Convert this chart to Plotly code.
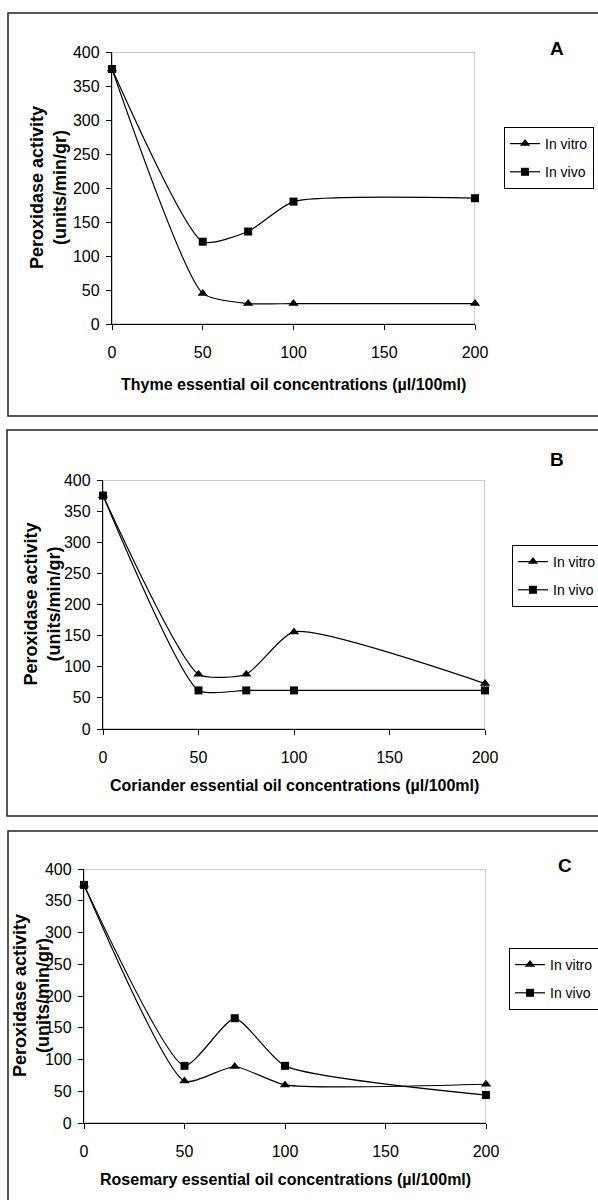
import plotly.graph_objects as go

# ---------------- data ----------------
conc = [0, 50, 75, 100, 200]
thyme_vitro = [375, 45, 30, 30, 30]
thyme_vivo = [375, 121, 136, 180, 185]
coriander_vitro = [375, 88, 88, 156, 73]
coriander_vivo = [375, 62, 62, 62, 62]
rosemary_vitro = [375, 66, 89, 60, 61]
rosemary_vivo = [375, 90, 165, 90, 44]
x_ticks = [0, 50, 100, 150, 200]
y_ticks = [0, 50, 100, 150, 200, 250, 300, 350, 400]
series_names = ["In vitro", "In vivo"]
panel_letters = ["A", "B", "C"]
x_titles = [
    "Thyme essential oil concentrations (µl/100ml)",
    "Coriander essential oil concentrations (µl/100ml)",
    "Rosemary essential oil concentrations (µl/100ml)",
]
y_title = "Peroxidase activity<br>(units/min/gr)"
panel_series = [
    (thyme_vitro, thyme_vivo),
    (coriander_vitro, coriander_vivo),
    (rosemary_vitro, rosemary_vivo),
]

# ---------------- layout geometry (pixels) ----------------
W, H = 598, 1200
FONT = "Liberation Sans, Arial, sans-serif"


def px(x):
    return x / W


def py(y):
    return 1 - y / H


panels = [
    dict(plot=(112, 475, 52, 324), box=(8, 13, 416), legend=(504, 127),
         letter=(557, 48), xtitle_y=385, ytitle_x=48),
    dict(plot=(103, 485, 480, 729), box=(7, 430, 816), legend=(512, 545),
         letter=(557, 460), xtitle_y=785, ytitle_x=42),
    dict(plot=(84, 486, 869, 1123), box=(8, 831, 1230), legend=(509, 948),
         letter=(565, 865), xtitle_y=1179, ytitle_x=31),
]

fig = go.Figure()
layout = dict(
    width=W, height=H,
    margin=dict(l=0, r=0, t=0, b=0, autoexpand=False),
    paper_bgcolor="white", plot_bgcolor="white",
    font=dict(family=FONT, color="black", size=15),
    shapes=[], annotations=[],
)

symbols = ["triangle-up", "square"]
msizes = [9, 8]

for i, p in enumerate(panels):
    n = "" if i == 0 else str(i + 1)
    xa, ya = "x" + n, "y" + n
    leg = "legend" + n
    x0, x1, y0, y1 = p["plot"]
    for j, vals in enumerate(panel_series[i]):
        fig.add_trace(go.Scatter(
            x=conc, y=vals, name=series_names[j], xaxis=xa, yaxis=ya,
            mode="lines+markers", legend=leg, legendgroup=f"{i}-{j}",
            line=dict(color="black", width=1.2, shape="spline", smoothing=0.55),
            marker=dict(symbol=symbols[j], size=msizes[j], color="black"),
            cliponaxis=False,
        ))
    layout["xaxis" + n] = dict(
        domain=[px(x0), px(x1)], anchor=ya, range=[0, 200],
        tickvals=x_ticks, ticks="outside", ticklen=5, tickcolor="black",
        showline=True, linecolor="black", linewidth=1.3, showgrid=False,
        zeroline=False, tickfont=dict(size=16, family=FONT),
        ticklabelstandoff=9, fixedrange=True,
    )
    layout["yaxis" + n] = dict(
        domain=[py(y1), py(y0)], anchor=xa, range=[0, 400],
        tickvals=y_ticks, ticks="outside", ticklen=5, tickcolor="black",
        showline=True, linecolor="black", linewidth=1.3, showgrid=False,
        zeroline=False, tickfont=dict(size=16, family=FONT),
        ticklabelstandoff=3, fixedrange=True,
    )
    # gray plot-area frame
    layout["shapes"].append(dict(
        type="rect", xref=xa, yref=ya, x0=0, x1=200, y0=0, y1=400,
        line=dict(color="#999999", width=1), layer="below"))
    # panel border
    bx, bt, bb = p["box"]
    layout["shapes"].append(dict(
        type="rect", xref="paper", yref="paper", x0=px(bx), x1=px(610),
        y0=py(bb), y1=py(bt), line=dict(color="#222222", width=1.5)))
    # legend
    lx, ly = p["legend"]
    layout[leg] = dict(
        x=px(lx), y=py(ly), xanchor="left", yanchor="top",
        bgcolor="white", bordercolor="black", borderwidth=1,
        font=dict(size=14, family=FONT), tracegroupgap=7,
        itemwidth=30,
    )
    # panel letter
    ax_, ay_ = p["letter"]
    layout["annotations"].append(dict(
        text="<b>%s</b>" % panel_letters[i], xref="paper", yref="paper",
        x=px(ax_), y=py(ay_), showarrow=False, xanchor="center", yanchor="middle",
        font=dict(size=19, family=FONT)))
    # x title
    layout["annotations"].append(dict(
        text="<b>%s</b>" % x_titles[i], xref="paper", yref="paper",
        x=px((x0 + x1) / 2), y=py(p["xtitle_y"]), showarrow=False,
        xanchor="center", yanchor="middle", font=dict(size=16, family=FONT)))
    # y title
    layout["annotations"].append(dict(
        text="<b>%s</b>" % y_title, xref="paper", yref="paper",
        x=px(p["ytitle_x"]), y=py((y0 + y1) / 2), showarrow=False,
        xanchor="center", yanchor="middle", textangle=-90,
        font=dict(size=18, family=FONT)))

fig.update_layout(**layout)
fig.write_html(
    "out.html",
    config={"displayModeBar": False},
    post_script="document.body.style.margin='0';"
                "document.body.style.overflow='hidden';",
)
